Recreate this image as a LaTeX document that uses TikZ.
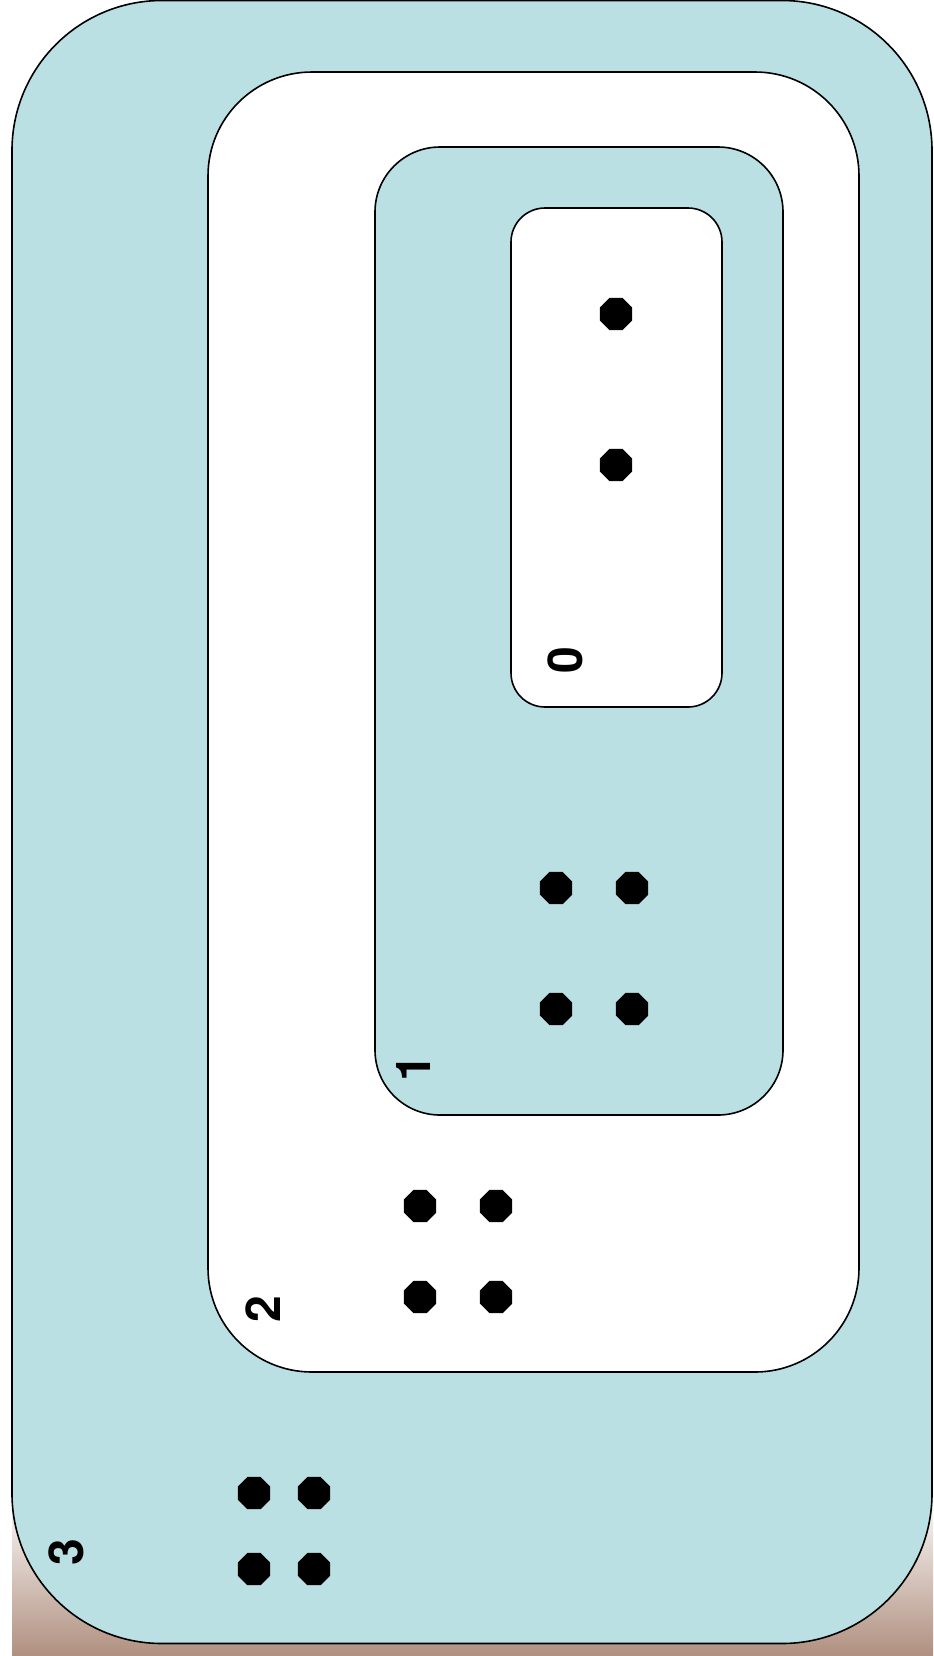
\documentclass[tikz,border=0pt]{standalone}
\usepackage{fontspec}
\setmainfont{TeX Gyre Heros}
\usetikzlibrary{shapes.geometric}

\definecolor{ringblue}{RGB}{187,224,227}
\definecolor{bgbrown}{RGB}{176,144,128}

\begin{document}
\begin{tikzpicture}[
    x=0.5pt,
    y=-0.5pt,
    ring/.style={
        rectangle,
        draw=black,
        line width=0.8pt,
        inner sep=0pt
    },
    dot/.style={
        regular polygon,
        regular polygon sides=8,
        fill=black,
        minimum size=17.4pt,
        inner sep=0pt
    },
    level/.style={
        font=\bfseries\fontsize{24}{24}\selectfont,
        rotate=90,
        inner sep=0pt
    }
]

% page and background shading
\useasboundingbox (0,0) rectangle (933,1656);
\fill[white] (0,0) rectangle (933,1656);
\shade[top color=white, bottom color=bgbrown] (12,1490) rectangle (933,1656);

% nested rings, outermost first
\node[ring, fill=ringblue, minimum width=460pt, minimum height=821.5pt,
    rounded corners=75pt] (ring3) at (472,822) {};
\node[ring, fill=white, minimum width=325.5pt, minimum height=650pt,
    rounded corners=52pt] (ring2) at (533.5,722) {};
\node[ring, fill=ringblue, minimum width=204pt, minimum height=484pt,
    rounded corners=32.5pt] (ring1) at (579,631) {};
\node[ring, fill=white, minimum width=105.5pt, minimum height=249.5pt,
    rounded corners=17pt] (ring0) at (616.5,457.5) {};

% level labels
\node[level] (lab0) at (565,660) {0};
\node[level] (lab1) at (413,1068) {1};
\node[level] (lab2) at (263,1309) {2};
\node[level] (lab3) at (66,1552) {3};

% dots in ring 0
\node[dot] (d0a) at (616,314) {};
\node[dot] (d0b) at (616,465) {};

% dots in ring 1
\node[dot] (d1a) at (556,888) {};
\node[dot] (d1b) at (632,888) {};
\node[dot] (d1c) at (556,1009) {};
\node[dot] (d1d) at (632,1009) {};

% dots in ring 2
\node[dot] (d2a) at (420,1206) {};
\node[dot] (d2b) at (496,1206) {};
\node[dot] (d2c) at (420,1297) {};
\node[dot] (d2d) at (496,1297) {};

% dots in ring 3
\node[dot] (d3a) at (254,1493) {};
\node[dot] (d3b) at (314,1493) {};
\node[dot] (d3c) at (254,1569) {};
\node[dot] (d3d) at (314,1569) {};

\end{tikzpicture}
\end{document}
